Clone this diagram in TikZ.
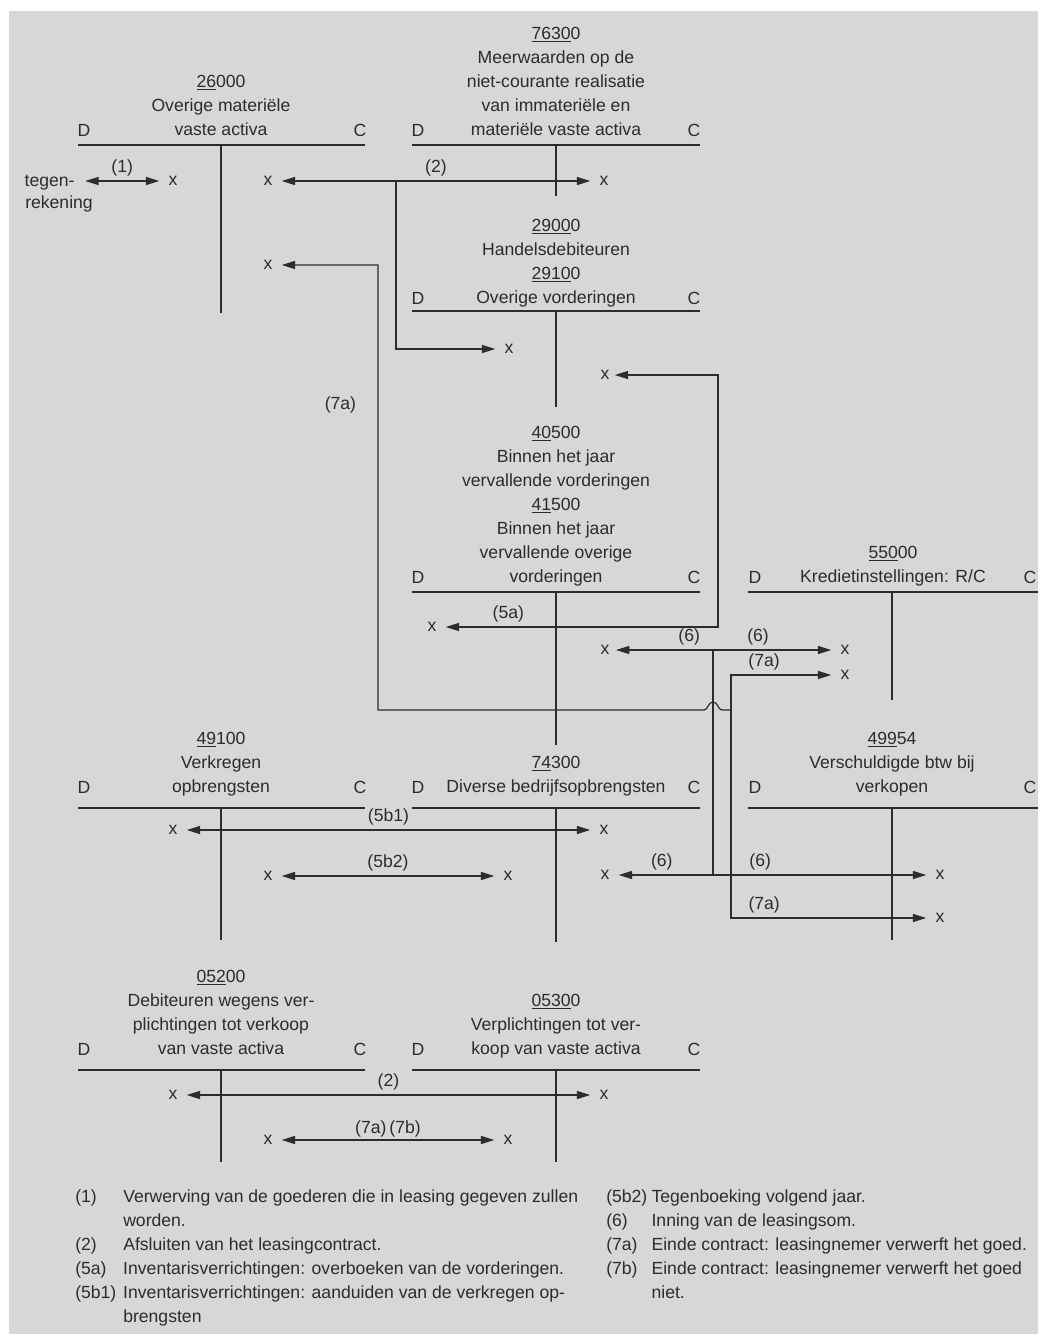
\documentclass[tikz,border=0pt]{standalone}
\usepackage{fontspec}
\setmainfont{Liberation Sans}
\usetikzlibrary{arrows.meta}
\definecolor{panel}{HTML}{D6D7D9}
\definecolor{ink}{HTML}{2C2C2C}
\newcommand{\acno}[2]{\underline{#1}#2}

\begin{document}
\begin{tikzpicture}[
  x=0.75pt, y=-0.75pt,
  font=\fontsize{13.2}{18}\selectfont, text=ink,
  acct/.style={align=center, inner sep=0pt, anchor=south},
  dc/.style={inner sep=0pt, anchor=base},
  tline/.style={draw=ink, line width=1.1pt},
  xmark/.style={inner sep=0pt, outer sep=7pt},
  wire/.style={draw=ink, line width=0.9pt},
  both/.style={wire, {Triangle[length=10pt,width=6pt]}-{Triangle[length=10pt,width=6pt]}},
  one/.style={wire, -{Triangle[length=10pt,width=6pt]}},
  lbl/.style={inner sep=0pt}
]
  % panel
  \fill[white] (0,0) rectangle (1042,1342);
  \fill[panel] (9,11) rectangle (1038,1334);

  % 26000
  \node[acct] (t26) at (221,143) {\acno{26}{000}\\Overige materiële\\vaste activa\strut};
  \node[dc] (d26) at (84,136) {D};
  \node[dc] (c26) at (360,136) {C};
  \draw[tline] (78,145) -- (365,145) (221,145) -- (221,313);

  % 76300
  \node[acct] (t76) at (556,143) {\acno{7630}{0}\\Meerwaarden op de\\niet-courante realisatie\\van immateriële en\\materiële vaste activa\strut};
  \node[dc] (d76) at (418,136) {D};
  \node[dc] (c76) at (694,136) {C};
  \draw[tline] (412,145) -- (700,145) (556,145) -- (556,196);

  % 29000 / 29100
  \node[acct] (t29) at (556,311) {\acno{2900}{0}\\Handelsdebiteuren\\\acno{2910}{0}\\Overige vorderingen\strut};
  \node[dc] (d29) at (418,304) {D};
  \node[dc] (c29) at (694,304) {C};
  \draw[tline] (412,311) -- (700,311) (556,311) -- (556,407);

  % 40500 / 41500
  \node[acct] (t41) at (556,590) {\acno{40}{500}\\Binnen het jaar\\vervallende vorderingen\\\acno{41}{500}\\Binnen het jaar\\vervallende overige\\vorderingen\strut};
  \node[dc] (d41) at (418,583) {D};
  \node[dc] (c41) at (694,583) {C};
  \draw[tline] (412,592) -- (700,592) (556,592) -- (556,745);

  % 55000
  \node[acct] (t55) at (893,590) {\acno{550}{00}\\Kredietinstellingen: R/C\strut};
  \node[dc] (d55) at (755,583) {D};
  \node[dc] (c55) at (1030,583) {C};
  \draw[tline] (748,592) -- (1038,592) (892,592) -- (892,700);

  % 49100
  \node[acct] (t491) at (221,800) {\acno{49}{100}\\Verkregen\\opbrengsten\strut};
  \node[dc] (d491) at (84,793) {D};
  \node[dc] (c491) at (360,793) {C};
  \draw[tline] (78,808) -- (365,808) (221,808) -- (221,940);

  % 74300
  \node[acct] (t74) at (556,800) {\acno{74}{300}\\Diverse bedrijfsopbrengsten\strut};
  \node[dc] (d74) at (418,793) {D};
  \node[dc] (c74) at (694,793) {C};
  \draw[tline] (412,808) -- (700,808) (556,808) -- (556,942);

  % 49954
  \node[acct] (t499) at (892,800) {\acno{499}{54}\\Verschuldigde btw bij\\verkopen\strut};
  \node[dc] (d499) at (755,793) {D};
  \node[dc] (c499) at (1030,793) {C};
  \draw[tline] (748,808) -- (1038,808) (892,808) -- (892,940);

  % 05200
  \node[acct] (t052) at (221,1062) {\acno{052}{00}\\Debiteuren wegens ver-\\plichtingen tot verkoop\\van vaste activa\strut};
  \node[dc] (d052) at (84,1055) {D};
  \node[dc] (c052) at (360,1055) {C};
  \draw[tline] (78,1070) -- (365,1070) (221,1070) -- (221,1162);

  % 05300
  \node[acct] (t053) at (556,1062) {\acno{0530}{0}\\Verplichtingen tot ver-\\koop van vaste activa\strut};
  \node[dc] (d053) at (418,1055) {D};
  \node[dc] (c053) at (694,1055) {C};
  \draw[tline] (412,1070) -- (700,1070) (556,1070) -- (556,1162);

  % entries
  \node[anchor=base west, inner sep=0pt, outer xsep=8pt] (tg) at (14,186) {tegen-};
  \node[anchor=base west, inner sep=0pt] (rk) at (25,208) {rekening};
  \node[xmark] (xA1) at (173,181) {x};
  \node[xmark] (xA2) at (268,181) {x};
  \node[xmark] (xA3) at (268,265) {x};
  \node[xmark] (xB1) at (604,181) {x};
  \node[xmark] (xC1) at (509,349) {x};
  \node[xmark, outer sep=4pt] (xC2) at (605,375) {x};
  \node[xmark] (xD1) at (432,627) {x};
  \node[xmark, outer sep=5pt] (xD2) at (605,650) {x};
  \node[xmark] (xE1) at (845,650) {x};
  \node[xmark] (xE2) at (845,675) {x};
  \node[xmark] (xF1) at (173,830) {x};
  \node[xmark] (xF2) at (268,876) {x};
  \node[xmark] (xG1) at (604,830) {x};
  \node[xmark] (xG2) at (508,876) {x};
  \node[xmark] (xG3) at (605,875) {x};
  \node[xmark] (xH1) at (940,875) {x};
  \node[xmark] (xH2) at (940,918) {x};
  \node[xmark] (xI1) at (173,1095) {x};
  \node[xmark] (xI2) at (268,1140) {x};
  \node[xmark] (xJ1) at (604,1095) {x};
  \node[xmark] (xJ2) at (508,1140) {x};

  \coordinate (j2) at (396,181);
  \coordinate (k5a) at (718,627);
  \coordinate (j6) at (713,650);
  \coordinate (k6) at (713,875);
  \coordinate (j7) at (731,710);
  \coordinate (k7a) at (378,265);
  \coordinate (k7b) at (378,710);

  % (1) and (2)
  \draw[both] (tg.east |- xA1) -- node[lbl, above=3.5pt] (l1) {(1)} (xA1);
  \draw[both] (xA2) -- node[lbl, above=3.5pt] (l2) {(2)} (xB1);
  \draw[one] (j2) |- (xC1);

  % (5a)
  \draw[both] (xC2) -| (k5a) -- node[lbl, above=3.5pt, pos=0.77] (l5a) {(5a)} (xD1);

  % (6)
  \draw[both] (xD2) -- node[lbl, above=3.5pt, pos=0.34] (l6a) {(6)}
                       node[lbl, above=3.5pt, pos=0.66] (l6b) {(6)} (xE1);
  \draw[wire] (j6) -- (k6);
  \draw[both] (xG3) -- node[lbl, above=3.5pt, pos=0.14] (l6c) {(6)}
                       node[lbl, above=3.5pt, pos=0.46] (l6d) {(6)} (xH1);

  % (7a)
  \draw[one] (j7) -- (722,710) .. controls (718,710) and (718,702) .. (713,702)
    .. controls (708,702) and (708,710) .. (704,710) -- (k7b)
    -- node[lbl, left=16pt, pos=0.685] (l7a) {(7a)} (k7a) -- (xA3);
  \draw[one] (j7) |- node[lbl, above=3.5pt, pos=0.665] (l7b) {(7a)} (xE2);
  \draw[one] (j7) |- node[lbl, above=3.5pt, pos=0.585] (l7c) {(7a)} (xH2);

  % (5b1), (5b2)
  \draw[both] (xF1) -- node[lbl, above=3.5pt] (l5b1) {(5b1)} (xG1);
  \draw[both] (xF2) -- node[lbl, above=3.5pt] (l5b2) {(5b2)} (xG2);

  % (2), (7a)(7b) below
  \draw[both] (xI1) -- node[lbl, above=3.5pt] (l2b) {(2)} (xJ1);
  \draw[both] (xI2) -- node[lbl, above=2pt] (l7ab) {(7a)\,(7b)} (xJ2);

  % legend
  \node[anchor=north west, inner sep=0pt] (legL) at (75,1185) {%
    \begin{tabular}{@{}p{36pt}@{}l@{}}
    (1) & Verwerving van de goederen die in leasing gegeven zullen\\
        & worden.\\
    (2) & Afsluiten van het leasingcontract.\\
    (5a) & Inventarisverrichtingen: overboeken van de vorderingen.\\
    (5b1) & Inventarisverrichtingen: aanduiden van de verkregen op-\\
        & brengsten
    \end{tabular}};
  \node[anchor=north west, inner sep=0pt] (legR) at (606,1185) {%
    \begin{tabular}{@{}p{34pt}@{}l@{}}
    (5b2) & Tegenboeking volgend jaar.\\
    (6) & Inning van de leasingsom.\\
    (7a) & Einde contract: leasingnemer verwerft het goed.\\
    (7b) & Einde contract: leasingnemer verwerft het goed\\
        & niet.
    \end{tabular}};
\end{tikzpicture}
\end{document}
